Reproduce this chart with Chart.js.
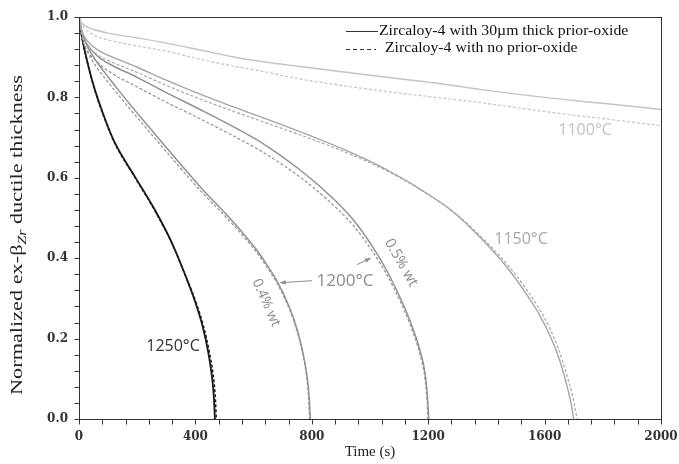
<!DOCTYPE html>
<html>
<head>
<meta charset="utf-8">
<script src="https://cdn.jsdelivr.net/npm/chart.js@4/dist/chart.umd.min.js"></script>
<style>
  html, body { margin: 0; padding: 0; background: #fff; }
  #wrap { width: 679px; height: 464px; }
</style>
</head>
<body>
<div id="wrap"><canvas id="chart" width="679" height="464"></canvas></div>
<script>
// ex-beta ductile thickness vs time, oxide (solid) and bare (dashed)

const t1250Oxide = [0, 10, 25, 50, 90, 124, 192, 261, 318, 364, 400, 425, 443, 456, 463, 467];
const v1250Oxide = [1.0, 0.95, 0.9, 0.83, 0.745, 0.686, 0.603, 0.52, 0.44, 0.36, 0.29, 0.23, 0.17, 0.11, 0.06, 0];
const t1250Bare = [0, 10, 25, 50, 90, 124, 192, 261, 318, 364, 402, 428, 447, 461, 468, 472];
const v1250Bare = [1.0, 0.948, 0.898, 0.828, 0.743, 0.684, 0.601, 0.518, 0.439, 0.36, 0.29, 0.23, 0.17, 0.11, 0.06, 0];

const t1200LowOxide = [0, 10, 30, 60, 101, 150, 215, 330, 416, 530, 610, 640, 679, 710, 740, 765, 782, 791, 795];
const v1200LowOxide = [1.0, 0.962, 0.925, 0.89, 0.85, 0.805, 0.748, 0.65, 0.578, 0.49, 0.421, 0.39, 0.345, 0.3, 0.245, 0.18, 0.115, 0.055, 0];
const t1200LowBare = [0, 10, 30, 60, 101, 150, 215, 330, 416, 530, 610, 640, 679, 710, 740, 765, 781, 789, 792];
const v1200LowBare = [1.0, 0.952, 0.912, 0.876, 0.837, 0.793, 0.737, 0.64, 0.569, 0.483, 0.415, 0.384, 0.34, 0.295, 0.24, 0.175, 0.11, 0.05, 0];

const t1200HighOxide = [0, 10, 30, 60, 100, 200, 300, 416, 536, 622, 759, 874, 943, 1012, 1057, 1103, 1137, 1172, 1190, 1198, 1202];
const v1200HighOxide = [1.0, 0.96, 0.93, 0.905, 0.885, 0.85, 0.812, 0.77, 0.725, 0.69, 0.62, 0.548, 0.495, 0.425, 0.37, 0.303, 0.245, 0.17, 0.11, 0.05, 0];
const t1200HighBare = [0, 10, 30, 60, 100, 200, 300, 416, 536, 622, 759, 874, 943, 1012, 1057, 1103, 1137, 1172, 1189, 1196, 1199];
const v1200HighBare = [1.0, 0.95, 0.915, 0.89, 0.866, 0.826, 0.788, 0.747, 0.702, 0.668, 0.602, 0.532, 0.481, 0.413, 0.36, 0.294, 0.236, 0.16, 0.1, 0.045, 0];

const t1150Oxide = [0, 10, 30, 60, 100, 200, 300, 416, 536, 622, 759, 873, 989, 1103, 1172, 1286, 1378, 1470, 1538, 1580, 1620, 1650, 1676, 1692, 1700];
const v1150Oxide = [1.0, 0.965, 0.94, 0.92, 0.905, 0.875, 0.843, 0.808, 0.775, 0.752, 0.715, 0.682, 0.645, 0.602, 0.572, 0.515, 0.452, 0.378, 0.31, 0.262, 0.205, 0.15, 0.085, 0.035, 0];
const t1150Bare = [0, 10, 30, 60, 100, 200, 300, 416, 536, 622, 759, 873, 989, 1103, 1172, 1286, 1378, 1470, 1538, 1580, 1620, 1650, 1676, 1697, 1706, 1712];
const v1150Bare = [1.0, 0.958, 0.93, 0.908, 0.892, 0.862, 0.83, 0.796, 0.764, 0.742, 0.707, 0.676, 0.641, 0.6, 0.571, 0.516, 0.456, 0.386, 0.322, 0.276, 0.222, 0.17, 0.11, 0.055, 0.022, 0];

const t1100Oxide = [0, 10, 30, 60, 100, 200, 300, 416, 536, 622, 759, 1000, 1275, 1378, 1600, 1790, 2000];
const v1100Oxide = [1.0, 0.985, 0.975, 0.967, 0.96, 0.948, 0.935, 0.918, 0.9, 0.89, 0.877, 0.855, 0.831, 0.82, 0.8, 0.786, 0.77];
const t1100Bare = [0, 10, 30, 60, 100, 200, 300, 416, 536, 622, 759, 1000, 1275, 1378, 1600, 1790, 2000];
const v1100Bare = [1.0, 0.98, 0.965, 0.952, 0.943, 0.928, 0.915, 0.895, 0.877, 0.866, 0.846, 0.82, 0.796, 0.787, 0.765, 0.748, 0.73];

const legendLabels = ['Zircaloy-4 with 30\u00b5m thick prior-oxide', 'Zircaloy-4 with no prior-oxide'];

// text labels placed in data units (time, thickness)
const curveLabels = [
  { text: '1250\u00b0C', t: 323, v: 0.18, color: '#333', size: 16, angle: 0 },
  { text: '1200\u00b0C', t: 914, v: 0.344, color: '#8c8c8c', size: 17, angle: 0 },
  { text: '0.4% wt', t: 643, v: 0.289, color: '#8c8c8c', size: 14, angle: 66 },
  { text: '0.5% wt', t: 1107, v: 0.389, color: '#8c8c8c', size: 14.5, angle: 60 },
  { text: '1150\u00b0C', t: 1519, v: 0.446, color: '#a8a8a8', size: 16, angle: 0 },
  { text: '1100\u00b0C', t: 1739, v: 0.719, color: '#c2c2c2', size: 16, angle: 0 }
];
const arrows = [
  { from: [801, 0.344], to: [691, 0.339] },
  { from: [955, 0.384], to: [1002, 0.40] }
];

function points(ts, vs) {
  return ts.map((t, i) => ({ x: t, y: vs[i] }));
}

function line(ts, vs, color, width, dashed) {
  return {
    data: points(ts, vs),
    borderColor: color,
    borderWidth: width,
    borderDash: dashed ? [3, 2] : [],
    pointRadius: 0,
    fill: false,
    cubicInterpolationMode: 'monotone'
  };
}

const chartDecor = {
  id: 'chartDecor',
  beforeDraw(chart) {
    const ctx = chart.ctx;
    ctx.save();
    ctx.fillStyle = '#fff';
    ctx.fillRect(0, 0, chart.width, chart.height);
    ctx.restore();
  },
  afterDraw(chart) {
    const ctx = chart.ctx;
    const area = chart.chartArea;
    const xs = chart.scales.x;
    const ys = chart.scales.y;

    // plot frame
    const L = Math.round(area.left) + 0.5, T = Math.round(area.top) + 0.5;
    const R = Math.round(area.right) + 0.5, B = Math.round(area.bottom) + 0.5;
    ctx.save();
    ctx.strokeStyle = '#333';
    ctx.lineWidth = 1;
    ctx.strokeRect(L, T, R - L, B - T);

    // outward tick marks
    ctx.beginPath();
    xs.ticks.forEach(tk => {
      const px = Math.round(xs.getPixelForValue(tk.value)) + 0.5;
      ctx.moveTo(px, B);
      ctx.lineTo(px, B + 5);
    });
    ys.ticks.forEach(tk => {
      const py = Math.round(ys.getPixelForValue(tk.value)) + 0.5;
      ctx.moveTo(L, py);
      ctx.lineTo(L - 5, py);
    });
    ctx.stroke();
    ctx.restore();

    // legend, top right inside the frame
    ctx.save();
    ctx.strokeStyle = '#333';
    ctx.fillStyle = '#111';
    ctx.lineWidth = 1;
    ctx.textBaseline = 'middle';
    const lx = area.right - 315;
    ctx.beginPath();
    ctx.moveTo(lx, area.top + 14.5);
    ctx.lineTo(lx + 32, area.top + 14.5);
    ctx.stroke();
    ctx.setLineDash([4, 3]);
    ctx.beginPath();
    ctx.moveTo(lx, area.top + 32.5);
    ctx.lineTo(lx + 30, area.top + 32.5);
    ctx.stroke();
    ctx.setLineDash([]);
    ctx.font = '15px "Liberation Serif"';
    ctx.save();
    ctx.translate(lx + 33, area.top + 14);
    ctx.scale(1.05, 1);
    ctx.fillText(legendLabels[0], 0, 0);
    ctx.restore();
    ctx.save();
    ctx.translate(lx + 39, area.top + 31);
    ctx.scale(1.05, 1);
    ctx.fillText(legendLabels[1], 0, 0);
    ctx.restore();
    ctx.restore();

    // y axis title with subscript
    ctx.save();
    const cy = (area.top + area.bottom) / 2 + 17;
    ctx.translate(18, cy);
    ctx.rotate(-Math.PI / 2);
    ctx.fillStyle = '#222';
    ctx.textBaseline = 'middle';
    const main = '17px "Liberation Serif"';
    const sub = 'italic 12px "Liberation Serif"';
    const parts = [
      { s: 'Normalized ex-\u03b2', f: main, dy: 0 },
      { s: 'Zr', f: sub, dy: 5 },
      { s: ' ductile thickness', f: main, dy: 0 }
    ];
    let total = 0;
    parts.forEach(p => { ctx.font = p.f; p.w = ctx.measureText(p.s).width; total += p.w; });
    ctx.scale(320 / total, 1);
    let px = -total / 2;
    parts.forEach(p => {
      ctx.font = p.f;
      ctx.fillText(p.s, px, p.dy);
      px += p.w;
    });
    ctx.restore();

    // x axis title
    ctx.save();
    ctx.fillStyle = '#222';
    ctx.font = '15px "Liberation Serif"';
    ctx.textAlign = 'center';
    ctx.textBaseline = 'middle';
    ctx.fillText('Time (s)', (area.left + area.right) / 2, 452);
    ctx.restore();

    // curve labels
    curveLabels.forEach(l => {
      ctx.save();
      ctx.translate(xs.getPixelForValue(l.t), ys.getPixelForValue(l.v));
      ctx.rotate(l.angle * Math.PI / 180);
      ctx.fillStyle = l.color;
      ctx.font = l.size + 'px "Open Sans"';
      ctx.textAlign = 'center';
      ctx.textBaseline = 'middle';
      ctx.fillText(l.text, 0, 0);
      ctx.restore();
    });

    // pointer arrows for the 1200°C pair
    arrows.forEach(a => {
      const x0 = xs.getPixelForValue(a.from[0]), y0 = ys.getPixelForValue(a.from[1]);
      const x1 = xs.getPixelForValue(a.to[0]), y1 = ys.getPixelForValue(a.to[1]);
      const ang = Math.atan2(y1 - y0, x1 - x0);
      ctx.save();
      ctx.strokeStyle = '#8c8c8c';
      ctx.fillStyle = '#8c8c8c';
      ctx.lineWidth = 1;
      ctx.beginPath();
      ctx.moveTo(x0, y0);
      ctx.lineTo(x1, y1);
      ctx.stroke();
      ctx.beginPath();
      ctx.moveTo(x1, y1);
      ctx.lineTo(x1 - 6 * Math.cos(ang - 0.4), y1 - 6 * Math.sin(ang - 0.4));
      ctx.lineTo(x1 - 6 * Math.cos(ang + 0.4), y1 - 6 * Math.sin(ang + 0.4));
      ctx.closePath();
      ctx.fill();
      ctx.restore();
    });
  }
};

const tickFont = { family: 'DejaVu Serif', size: 12, weight: 'bold' };
// tick marks themselves are drawn by chartDecor; the hidden grid only reserves label offset
const hiddenGrid = { display: false, drawTicks: true, tickLength: 10 };

new Chart(document.getElementById('chart').getContext('2d'), {
  type: 'line',
  data: {
    datasets: [
      line(t1100Oxide, v1100Oxide, '#c4c4c4', 1.4, false),
      line(t1100Bare, v1100Bare, '#c4c4c4', 1.2, true),
      line(t1150Oxide, v1150Oxide, '#a6a6a6', 1.4, false),
      line(t1150Bare, v1150Bare, '#a6a6a6', 1.2, true),
      line(t1200HighOxide, v1200HighOxide, '#929292', 1.5, false),
      line(t1200HighBare, v1200HighBare, '#929292', 1.2, true),
      line(t1200LowOxide, v1200LowOxide, '#929292', 1.5, false),
      line(t1200LowBare, v1200LowBare, '#929292', 1.2, true),
      line(t1250Oxide, v1250Oxide, '#1a1a1a', 1.8, false),
      line(t1250Bare, v1250Bare, '#1a1a1a', 1.5, true)
    ]
  },
  options: {
    responsive: false,
    animation: false,
    devicePixelRatio: 1,
    layout: { padding: { top: 17, right: 18, left: 0, bottom: 0 } },
    plugins: {
      legend: { display: false },
      tooltip: { enabled: false }
    },
    scales: {
      x: {
        type: 'linear',
        min: 0,
        max: 2000,
        border: { display: false },
        grid: hiddenGrid,
        ticks: {
          stepSize: 80,
          autoSkip: false,
          maxRotation: 0,
          padding: 1,
          color: '#333',
          font: tickFont,
          callback: v => (v % 400 === 0 ? String(v) : '')
        },
        afterFit: s => { s.height = 45; }
      },
      y: {
        min: 0,
        max: 1,
        border: { display: false },
        grid: hiddenGrid,
        ticks: {
          stepSize: 0.04,
          autoSkip: false,
          padding: 1,
          color: '#333',
          font: tickFont,
          callback: v => (Math.round(v * 100) % 20 === 0 ? v.toFixed(1) : '')
        },
        afterFit: s => { s.width = 79; }
      }
    }
  },
  plugins: [chartDecor]
});
</script>
</body>
</html>
